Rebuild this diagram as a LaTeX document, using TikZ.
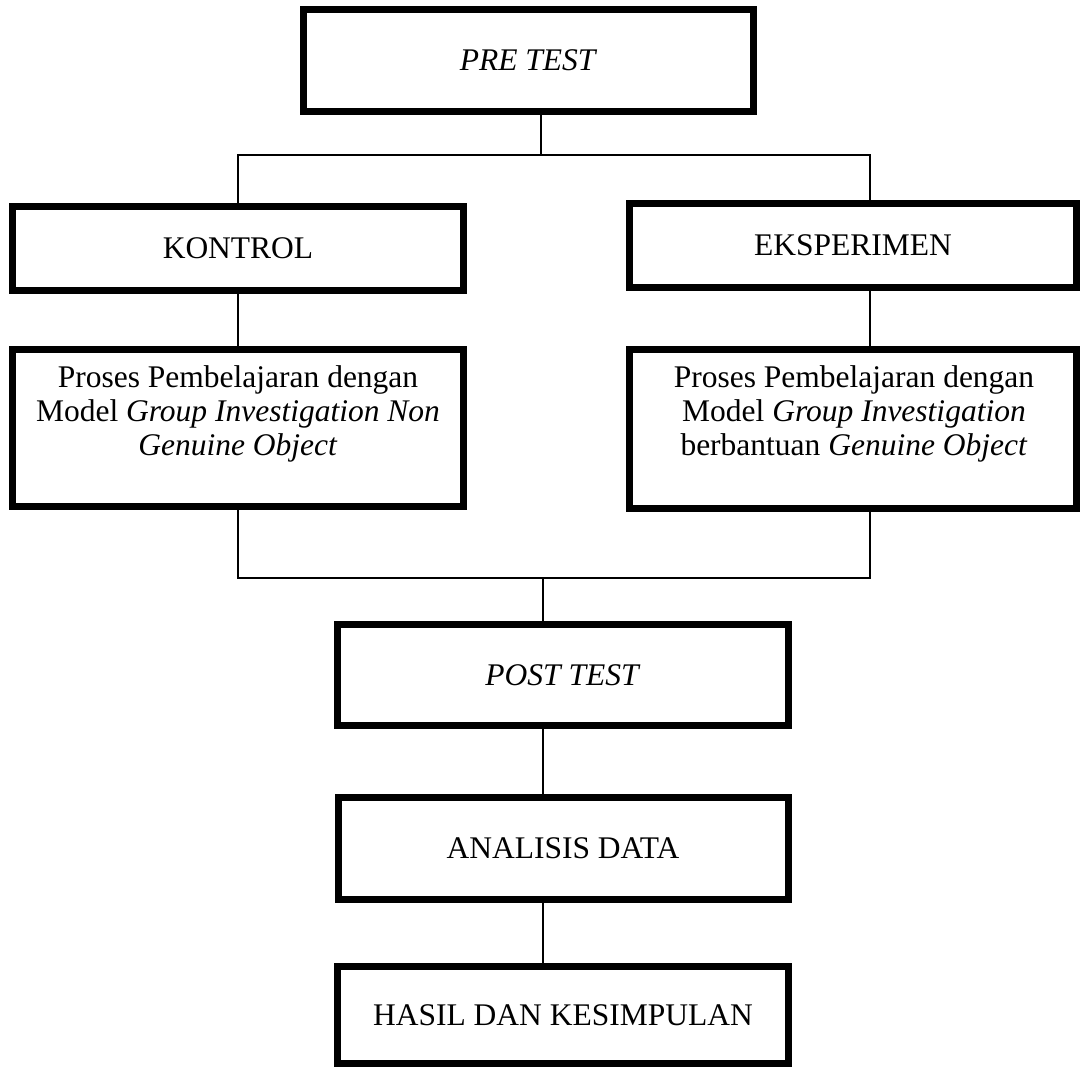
\documentclass[tikz,border=0pt]{standalone}
\usepackage{fontspec}
\setmainfont{Liberation Serif}
\begin{document}
\begin{tikzpicture}[x=1pt,y=-1pt,
  every node/.style={font=\fontsize{31.5}{34}\selectfont},
  box/.style={draw,line width=7pt,inner sep=0pt},
  line/.style={line width=1.6pt}]
  \useasboundingbox (0,0) rectangle (1080,1068);
  \node[box,minimum width=450pt,minimum height=102pt] (pre) at (528.5,60.5) {\textit{PRE TEST}};
  \node[box,minimum width=451pt,minimum height=84pt] (kontrol) at (238,248.5) {KONTROL};
  \node[box,minimum width=447pt,minimum height=84pt] (eksp) at (853,245.5) {EKSPERIMEN};
  \node[box,minimum width=451pt,minimum height=157pt] (proskiri) at (238,428) {};
  \node[box,minimum width=447pt,minimum height=159pt] (proskanan) at (853,429) {};
  \node[align=center] (tekskiri) at (238,414)
    {Proses Pembelajaran dengan\\Model \textit{Group Investigation Non}\\\textit{Genuine Object}};
  \node[align=center] (tekskanan) at (854,414)
    {Proses Pembelajaran dengan\\Model \textit{Group Investigation}\\berbantuan \textit{Genuine Object}};
  \node[box,minimum width=451pt,minimum height=101pt] (post) at (563,675) {\textit{POST TEST}};
  \node[box,minimum width=450pt,minimum height=102pt] (analisis) at (563,848.5) {ANALISIS DATA};
  \node[box,minimum width=451pt,minimum height=97pt] (hasil) at (563,1015) {HASIL DAN KESIMPULAN};
  \coordinate (atas) at (541,155);
  \coordinate (kanan) at (870,155);
  \coordinate (bawah) at (543,578);
  \draw[line] (pre.south -| atas) -- (atas);
  \draw[line] (kontrol.north) |- (kanan) -- (kanan |- eksp.north);
  \draw[line] (kontrol.south) -- (proskiri.north);
  \draw[line] (eksp.south -| kanan) -- (proskanan.north -| kanan);
  \draw[line] (proskiri.south) |- (bawah -| kanan) -- (proskanan.south -| kanan);
  \draw[line] (bawah) -- (post.north -| bawah);
  \draw[line] (post.south -| bawah) -- (analisis.north -| bawah);
  \draw[line] (analisis.south -| bawah) -- (hasil.north -| bawah);
\end{tikzpicture}
\end{document}
